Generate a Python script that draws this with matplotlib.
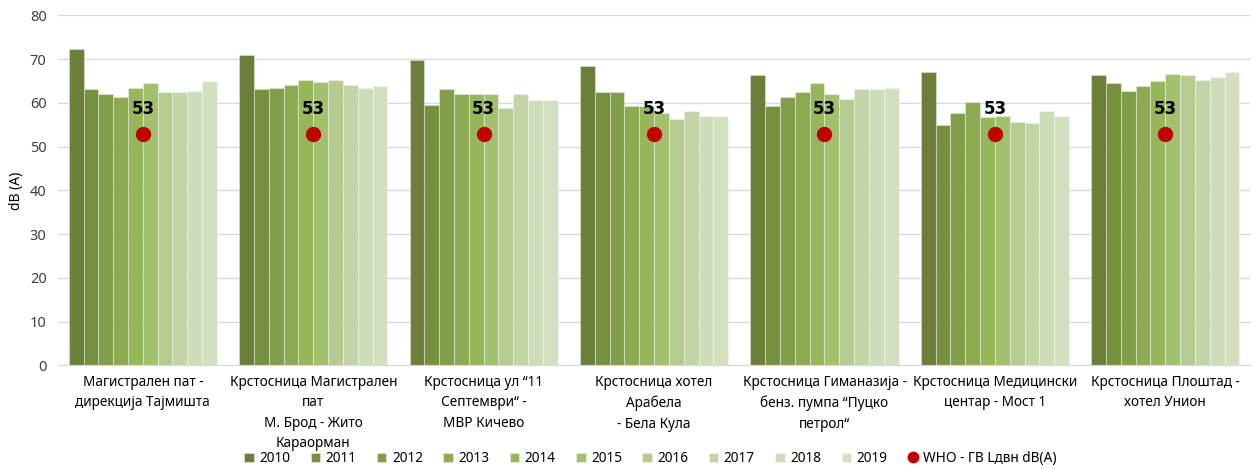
import numpy as np
from matplotlib import pyplot as plt

plt.rcParams['font.family'] = ['Noto Sans', 'DejaVu Sans']

locations = [
    'Магистрален пат -\nдирекција Тајмишта',
    'Крстосница Магистрален\nпат\nМ. Брод - Жито\nКараорман',
    'Крстосница ул “11\nСептември“ -\nМВР Кичево',
    'Крстосница хотел\nАрабела\n- Бела Кула',
    'Крстосница Гиманазија -\nбенз. пумпа “Пуцко\nпетрол“',
    'Крстосница Медицински\nцентар - Мост 1',
    'Крстосница Плоштад -\nхотел Унион',
]
years = ['2010', '2011', '2012', '2013', '2014',
         '2015', '2016', '2017', '2018', '2019']

# rows = years, columns = locations
levels = [
    [72.3, 70.9, 69.8, 68.4, 66.3, 67.0, 66.3],  # 2010
    [63.1, 63.1, 59.6, 62.4, 59.2, 55.0, 64.5],  # 2011
    [62.0, 63.5, 63.1, 62.4, 61.3, 57.8, 62.8],  # 2012
    [61.3, 64.1, 62.0, 59.2, 62.4, 60.3, 63.8],  # 2013
    [63.4, 65.2, 62.0, 59.2, 64.5, 56.8, 64.9],  # 2014
    [64.5, 64.8, 62.0, 57.8, 62.0, 57.1, 66.7],  # 2015
    [62.4, 65.2, 58.9, 56.4, 60.9, 55.7, 66.3],  # 2016
    [62.4, 64.1, 62.0, 58.1, 63.1, 55.3, 65.2],  # 2017
    [62.7, 63.5, 60.6, 57.1, 63.1, 58.1, 65.9],  # 2018
    [64.9, 63.8, 60.6, 57.1, 63.4, 57.1, 67.0],  # 2019
]
who_limit = [53, 53, 53, 53, 53, 53, 53]
who_label = 'WHO - ГВ Lдвн dB(A)'

colors = ['#6B7F3B', '#77903F', '#829E4A', '#8DAA52', '#97B65A',
          '#A2C06E', '#B5CB8F', '#C3D4A7', '#CEDCBA', '#D3E0C0']

fig = plt.figure(figsize=(12.53, 4.68), dpi=100)
ax = fig.add_axes([0.046, 0.2195, 0.952, 0.7475])

x = np.arange(len(locations))
n = len(years)
w = 0.87 / n
handles = []
for i, yr in enumerate(years):
    b = ax.bar(x + (i - (n - 1) / 2) * w, levels[i], w, color=colors[i],
               edgecolor=(1, 1, 1, 0.35), linewidth=0.8, label=yr, zorder=2)
    handles.append(b)

who, = ax.plot(x, who_limit, 'o', color='#C00000', markersize=10,
               linestyle='none', label=who_label, zorder=3)
handles.append(who)
for xi, v in zip(x, who_limit):
    ax.annotate(str(v), (xi, v), xytext=(0, 11), textcoords='offset points',
                ha='center', va='bottom', fontsize=12, fontweight='bold',
                family=['DejaVu Sans'], zorder=4)

ax.set_xlim(-0.5, len(locations) - 0.5)
ax.set_ylim(0, 80)
ax.set_yticks(range(0, 81, 10))
ax.yaxis.grid(True, color='#D9D9D9', linewidth=1)
ax.set_axisbelow(True)
for s in ['top', 'right', 'left']:
    ax.spines[s].set_visible(False)
ax.spines['bottom'].set_color('#D9D9D9')
ax.tick_params(axis='y', length=0, labelsize=10.5, pad=8, colors='#404040')
ax.tick_params(axis='x', length=0, pad=7)
ax.set_xticks(x)
ax.set_xticklabels(locations, fontsize=9.8, linespacing=1.5)
ax.set_ylabel('dB (A)', fontsize=10, labelpad=4)

fig.legend(handles=handles, loc='lower center',
           bbox_to_anchor=(0.519, -0.022), ncol=11, frameon=False,
           fontsize=9.8, handlelength=0.7, handleheight=0.7,
           handletextpad=0.4, columnspacing=1.5, markerscale=0.75)

fig.savefig('out.png', dpi=100)
